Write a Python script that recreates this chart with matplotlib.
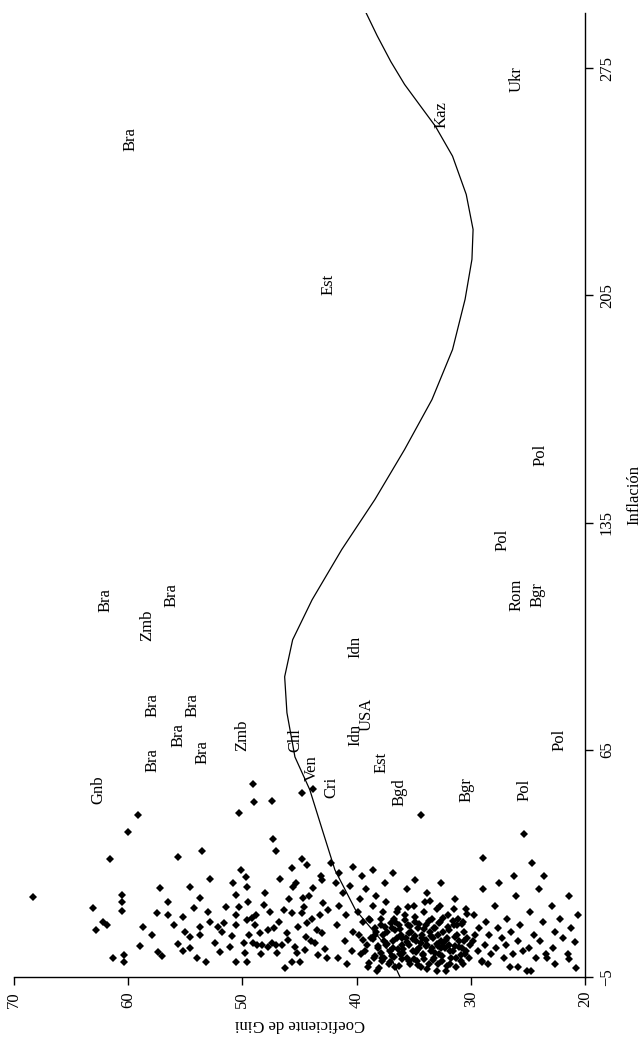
import matplotlib
matplotlib.use("Agg")
import matplotlib.pyplot as plt

plt.rcParams['font.family'] = 'serif'
plt.rcParams['font.serif'] = ['Liberation Serif', 'DejaVu Serif']

# --- scatter points (gini, inflation) ---
outer_gini = [68.3, 59.1, 60.0, 61.6, 55.6, 53.5, 50.3, 49.1, 49.0, 47.4, 44.8, 43.8, 47.3, 47.1,
              63.1, 62.8, 62.2, 61.9, 60.5, 60.5, 60.5, 61.3, 60.4, 60.4, 58.7, 59.0, 57.9, 57.5,
              57.2, 57.4, 57.0, 56.5, 56.5, 55.6, 55.2, 55.2, 54.6, 54.6, 54.6, 54.2, 53.7, 53.7,
              53.7, 53.2, 52.8, 52.8, 52.1, 52.0, 51.8, 51.4, 51.1, 50.8, 50.6, 50.6, 50.6, 50.6,
              50.3, 50.1, 49.9, 49.8, 49.7, 49.6, 49.6, 49.6, 49.4, 49.2, 49.1, 48.9, 48.7, 48.5,
              48.3, 48.1, 48.0, 47.8, 47.8, 47.4, 47.1, 47.0, 46.7, 46.5, 46.4, 46.3, 46.1, 45.7,
              45.7, 45.7, 45.6, 45.4, 45.2, 45.1, 45.0, 44.8, 44.8, 44.7, 44.5, 44.4, 44.3, 44.3,
              43.8, 43.6, 43.4, 43.2, 43.0, 43.0, 42.9,
              44.0, 43.5, 42.8, 42.5, 43.9, 42.6, 44.6, 45.9, 46.8, 47.6, 48.4, 49.5, 50.9, 51.6,
              52.4, 53.0, 54.0, 55.0, 56.0, 44.2, 43.1, 45.3, 46.0, 47.2, 48.8]
outer_infl = [19.7, 45.0, 39.7, 31.4, 32.0, 33.9, 45.6, 54.5, 49.0, 49.3, 51.7, 53.0, 37.5, 33.9,
              16.3, 9.5, 12.0, 11.0, 20.3, 18.0, 15.4, 0.9, -0.4, 1.8, 10.4, 4.6, 8.0, 14.7,
              22.4, 2.7, 1.5, 14.1, 18.0, 5.2, 13.5, 3.0, 22.8, 7.3, 4.0, 16.3, 19.4, 10.4,
              8.0, -0.4, 25.2, 12.0, 10.4, 2.7, 8.9, 16.6, 4.3, 24.0, 20.3, 14.1, 11.0, -0.4,
              16.6, 28.0, 5.5, 2.4, 25.8, 22.8, -0.4, 12.6, 8.0, 13.2, 5.5, 11.0, 4.9, 8.6,
              4.9, 17.2, 20.9, 4.3, 9.5, 5.5, 4.9, 2.4, 25.2, 4.9, 15.7, -2.2, 8.6, 14.7,
              28.6, -0.4, 22.8, 4.3, 2.4, 10.4, -0.4, 31.4, 14.7, 19.4, 3.3, 7.3, 29.5, 11.7,
              22.4, 5.5, 1.8, 14.1, 24.9, 8.6, 17.8,
              6.0, 9.5, 3.5, 15.5, 13.0, 1.0, 16.5, 19.0, 12.0, 15.0, 2.0, 18.0, 7.5, 11.5,
              5.5, 15.0, 1.0, 9.0, 11.0, 20.0, 26.0, 24.0, 6.5, 10.0, 14.0]

core_gini = [41.8, 41.2, 40.6, 41.5, 40.9, 41.7, 40.3, 41.0, 40.4, 41.6, 40.8, 39.7, 39.2, 39.9,
             39.4, 39.8, 39.1, 39.6, 39.0, 38.6, 38.3, 38.9, 38.4, 38.7, 38.1, 38.5, 38.2, 37.7,
             37.4, 37.9, 37.3, 37.6, 37.1, 37.8, 37.2, 36.7, 36.4, 36.9, 36.5, 36.8, 36.2, 36.6,
             36.3, 36.1, 36.0,
             35.8, 35.5, 35.2, 35.7, 35.4, 35.1, 35.6, 35.3, 34.9, 34.6, 34.3, 34.8, 34.5, 34.2,
             34.7, 34.4, 34.1, 33.9, 33.6, 33.3, 33.8, 33.5, 33.2, 33.7, 33.4, 33.1, 32.9, 32.6,
             32.3, 32.8, 32.5, 32.2, 32.7, 32.4, 32.1, 31.9, 31.6, 31.3, 31.8, 31.5, 31.2, 31.0,
             30.8, 30.5, 30.9, 30.6, 30.3, 30.1, 30.4, 30.2, 35.0, 34.0, 33.0, 32.0, 31.1, 30.7,
             36.0, 35.9, 34.9, 33.9, 32.9, 31.9, 34.4, 33.4, 32.4, 31.4, 35.4, 36.6, 37.4, 38.4,
             39.4, 37.9, 36.9, 33.1, 34.1,
             29.7, 29.3, 29.8, 29.4, 29.0, 28.9, 28.7, 28.4, 28.8, 28.2, 28.5, 27.9, 27.6, 27.3,
             27.8, 27.1, 26.8, 26.5, 26.9, 26.3, 26.6, 26.0, 25.7, 25.9, 25.4, 25.3, 25.1, 24.8,
             24.5, 24.9, 24.3, 24.0, 23.7, 23.9, 23.4, 23.3, 22.9, 22.6, 22.8, 22.6, 22.2, 21.9,
             21.5, 21.4, 21.2, 20.9, 20.8, 20.6, 29.0, 30.7, 33.0, 24.7, 25.9, 21.4, 27.5, 28.9,
             26.2, 23.6, 24.6,
             42.2, 41.5, 40.3, 39.5, 38.6, 37.5, 36.8, 35.6, 34.9, 34.4, 33.8, 32.6, 31.4, 30.4]
core_infl = [24, 21, 23, 17, 14, 11, 9, 6, 3, 1, -1, 19, 22, 15,
             12, 8, 5, 2, -2, 17, 20, 13, 10, 7, 4, 1, -3, 15,
             18, 11, 9, 6, 3, 0, -1, 13, 16, 10, 7, 4, 2, -2,
             11, 8, 5,
             14, 11, 9, 7, 5, 3, 1, -1, 12, 10, 8, 6, 4, 2,
             0, -2, 15, 11, 9, 7, 5, 3, 1, -1, 13, 10, 8, 6,
             4, 2, 0, -3, 12, 9, 7, 5, 3, 1, -1, 11, 8, 6,
             4, 2, 0, 9, 7, 5, 3, 1, 17, 18, 16, 14, 13, 12,
             0.5, 3.5, 7.5, 6.5, 4.5, 9.5, 5.5, 4.0, 5.5, 4.5, 8.5, 9.5, 5.0, 8.0,
             6.5, 2.5, 1.5, 2.5, 0.5,
             14, 10, 6, 3, 0, 31.7, 12, 8, 5, 2, -1, 17, 10, 7,
             4, 1, 13, 9, 5, 2, -2, 20, 11, 6, 3, 39.1, -3, 15,
             8, 4, 1, 22, 12, 6, 2, 0.9, 17, 9, 4, -1, 13, 7,
             2, 20, 10, 5.8, -2.2, 14, -0.4, -1, -3.1, -3.1, -2, 0.5, 24, 22,
             26, 26, 30,
             30, 27, 29, 26, 28, 24, 27, 22, 25, 45, 21, 24, 19, 16]

dense_gini = [38.8, 38.3, 37.9, 37.5, 37.0, 36.6, 36.2, 35.8, 35.3, 34.9, 34.5, 34.1, 33.7, 33.2,
              32.8, 32.4, 32.0, 31.6, 31.2, 30.8,
              38.6, 38.1, 37.7, 37.3, 36.8, 36.4, 36.0, 35.6, 35.1, 34.7, 34.3, 33.9, 33.5, 33.0,
              32.6, 32.2, 31.8, 31.4, 31.0, 30.6,
              38.9, 38.4, 38.0, 37.6, 37.1, 36.7, 36.3, 35.9, 35.4, 35.0, 34.6, 34.2, 33.8, 33.3,
              32.9, 32.5, 32.1, 31.7, 31.3, 30.9,
              39.3, 37.8, 36.5, 35.5, 34.8, 33.6, 32.7, 31.5, 30.3, 29.6]
dense_infl = [12.5, 9.0, 13.0, 10.5, 11.5, 12.0, 9.8, 12.6, 10.8, 13.4, 11.2, 9.9, 12.3, 10.1,
              11.6, 13.1, 10.3, 12.2, 10.9, 11.4,
              6.8, 4.4, 7.9, 5.1, 6.2, 3.7, 7.1, 5.8, 6.6, 3.2, 6.9, 4.6, 7.6, 5.3,
              3.9, 6.4, 2.9, 7.3, 4.1, 6.0,
              -0.8, 1.6, -2.1, 0.7, -0.5, 1.1, -1.7, 2.3, -0.2, 0.4, -1.2, 1.9, -2.4, 0.2,
              -0.9, 1.4, -1.5, 0.8, -2.0, 1.7,
              3.0, 1.0, 15.0, 16.5, 2.8, 18.5, 17.0, 15.8, 14.5, 8.0]

# --- labelled countries ---
lab_text = ['Gnb', 'Bra', 'Zmb', 'Bra', 'Bra', 'Bra', 'Bra', 'Bra', 'Bra', 'Zmb',
            'Chl', 'Ven', 'Cri', 'Idn', 'Idn', 'USA', 'Est', 'Bgd', 'Bgr', 'Pol',
            'Pol', 'Rom', 'Bgr', 'Pol', 'Pol', 'Est', 'Kaz', 'Bra', 'Ukr']
lab_gini = [62.6, 62.0, 58.3, 56.2, 57.9, 54.4, 57.9, 55.6, 53.5, 50.0,
            45.4, 43.9, 42.2, 40.1, 40.1, 39.1, 37.8, 36.2, 30.4, 25.3,
            22.2, 26.0, 24.2, 27.2, 23.9, 42.5, 32.6, 59.8, 26.0]
lab_infl = [52.7, 111.0, 103.5, 112.8, 78.9, 78.9, 61.9, 69.6, 64.4, 69.6,
            68.1, 59.4, 53.3, 96.8, 69.6, 75.8, 61.0, 52.0, 52.7, 52.7,
            68.1, 112.8, 112.8, 129.7, 156.0, 208.4, 260.8, 253.1, 271.6]

# --- fitted curve, points ---
curve_infl = [-5, 4.9, 15.7, 28.0, 40.3, 52.7, 62.8, 76.4, 87.5, 98.9, 111.2, 126.7, 142.1,
              157.5, 172.9, 188.3, 203.8, 216.1, 225.3, 236.1, 247.9, 257.1, 263.3, 270.0,
              277.0, 285.0, 293.0]
curve_gini = [36.2, 37.5, 40.1, 41.9, 43.0, 44.1, 45.4, 46.1, 46.3, 45.6, 43.9, 41.3, 38.4,
              35.8, 33.4, 31.6, 30.5, 29.9, 29.8, 30.4, 31.6, 33.1, 34.4, 35.8,
              37.0, 38.2, 39.3]

xticks = [70, 60, 50, 40, 30, 20]
yticks = [-5, 65, 135, 205, 275]

fig = plt.figure(figsize=(6.4, 10.43), dpi=100)
ax = fig.add_axes([14 / 640, 66 / 1043, 571 / 640, 964 / 1043])

for gx, iy in [(outer_gini, outer_infl), (core_gini, core_infl), (dense_gini, dense_infl)]:
    ax.plot(gx, iy, 'D', color='black', ms=4.0, mew=0)
ax.plot(curve_gini, curve_infl, '-', color='black', lw=0.9)

for t, g, i in zip(lab_text, lab_gini, lab_infl):
    ax.text(g, i, t, rotation=90, ha='center', va='center', fontsize=12)

ax.set_xlim(70, 20)
ax.set_ylim(-5, 292)
ax.set_xticks(xticks)
ax.set_yticks(yticks)
ax.yaxis.tick_right()
ax.yaxis.set_label_position('right')

for s in ['left', 'top']:
    ax.spines[s].set_visible(False)
ax.spines['bottom'].set_linewidth(1.0)
ax.spines['right'].set_linewidth(1.0)
ax.tick_params(axis='both', direction='out', length=6, width=1.0, labelsize=12, pad=4)
for lbl in ax.get_xticklabels():
    lbl.set_rotation(90)
for lbl in ax.get_yticklabels():
    lbl.set_rotation(90)
    lbl.set_va('center')

ax.set_xlabel("Coeficiente de Gini", fontsize=12, rotation=180, labelpad=6)
ax.set_ylabel("Inflación", fontsize=12, rotation=90, labelpad=8)

fig.savefig("out.png", dpi=100)
